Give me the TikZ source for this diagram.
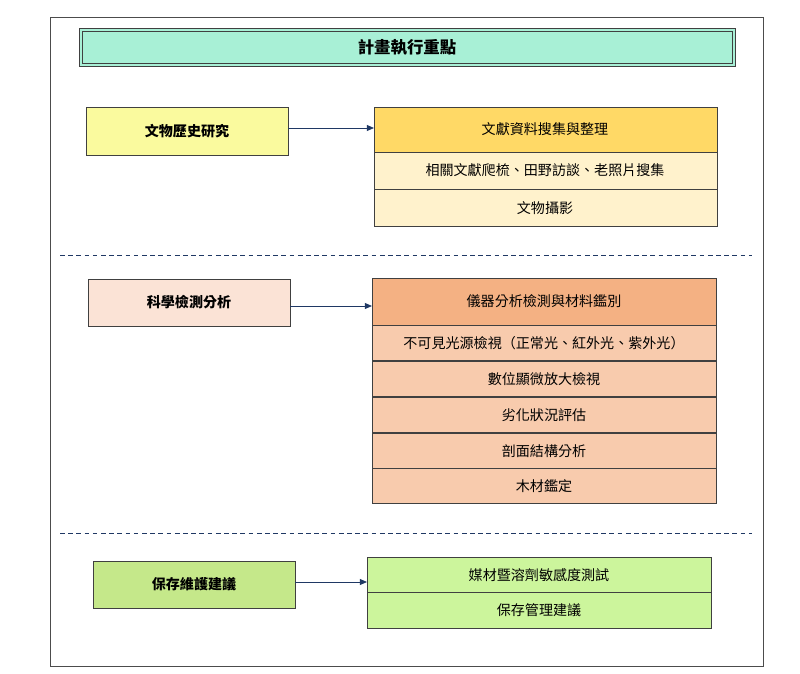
\documentclass[tikz,border=0pt]{standalone}
\usepackage{fontspec}
\setmainfont{Noto Sans CJK TC}
\usetikzlibrary{arrows.meta}
\definecolor{mint}{HTML}{A8F0D6}
\definecolor{yel}{HTML}{FAFA9E}
\definecolor{gold}{HTML}{FFD966}
\definecolor{cream}{HTML}{FFF2CC}
\definecolor{peach}{HTML}{FBE3D6}
\definecolor{orng}{HTML}{F4B183}
\definecolor{lorng}{HTML}{F8CBAD}
\definecolor{grn}{HTML}{C5E88A}
\definecolor{lgrn}{HTML}{CCF59C}
\definecolor{navy}{HTML}{1F3864}
\begin{document}
\begin{tikzpicture}[x=0.03cm,y=-0.03cm,
 box/.style={draw=black!75,line width=0.6pt,font=\fontsize{12}{14}\selectfont},
 lab/.style={font=\fontsize{12}{14}\selectfont},
 bl/.style={font=\fontsize{12}{14}\selectfont\bfseries},
 arr/.style={draw=navy,line width=0.7pt,-{Triangle[length=6pt,width=5pt]}},
 sepline/.style={draw=navy,line width=0.8pt,dash pattern=on 4pt off 3pt}]
\useasboundingbox (0,0) rectangle (800,674);
\fill[white] (0,0) rectangle (800,674);
\draw[black!70,line width=0.6pt] (50,17) rectangle (763,666);
% title
\draw[black!75,line width=0.6pt,fill=mint] (79,28) rectangle (735,66);
\draw[black!75,line width=0.5pt] (82,31) rectangle (732,63);
\node[font=\fontsize{14}{16}\selectfont\bfseries] (title) at (407,47) {計畫執行重點};
% group 1
\draw[box,fill=yel] (86,107) rectangle (288,155);
\node[bl] (a) at (187,131) {文物歷史研究};
\coordinate (a1) at (288,128);
\draw[box,fill=gold] (374,107) rectangle (717,152);
\node[lab] (h1) at (545,129) {文獻資料搜集與整理};
\coordinate (h1w) at (374,128);
\draw[box,fill=cream] (374,152) rectangle (717,189);
\node[lab] (r11) at (545,170) {相關文獻爬梳、田野訪談、老照片搜集};
\draw[box,fill=cream] (374,189) rectangle (717,226);
\node[lab] (r12) at (545,208) {文物攝影};
\draw[arr] (a1) -- (h1w);
\draw[sepline] (60,255) -- (752,255);
% group 2
\draw[box,fill=peach] (88,279) rectangle (290,326);
\node[bl] (b) at (189,302) {科學檢測分析};
\coordinate (b1) at (290,306);
\draw[box,fill=orng] (372,278) rectangle (716,325);
\node[lab] (h2) at (544,301) {儀器分析檢測與材料鑑別};
\coordinate (h2w) at (372,306);
\foreach \y/\t in {325/不可見光源檢視（正常光、紅外光、紫外光）,361/數位顯微放大檢視,397/劣化狀況評估,433/剖面結構分析,468/木材鑑定}{
 \draw[box,fill=lorng] (372,\y) rectangle (716,\y+35.5);
 \node[lab] at (544,\y+18) {\t};}
\draw[arr] (b1) -- (h2w);
\draw[sepline] (60,533) -- (752,533);
% group 3
\draw[box,fill=grn] (93,561) rectangle (295,608);
\node[bl] (c) at (194,584) {保存維護建議};
\coordinate (c1) at (295,582);
\draw[box,fill=lgrn] (367,557) rectangle (711,592);
\node[lab] (h3) at (539,575) {媒材暨溶劑敏感度測試};
\coordinate (h3w) at (367,582);
\draw[box,fill=lgrn] (367,592) rectangle (711,628);
\node[lab] (r31) at (539,610) {保存管理建議};
\draw[arr] (c1) -- (h3w);
\end{tikzpicture}
\end{document}
